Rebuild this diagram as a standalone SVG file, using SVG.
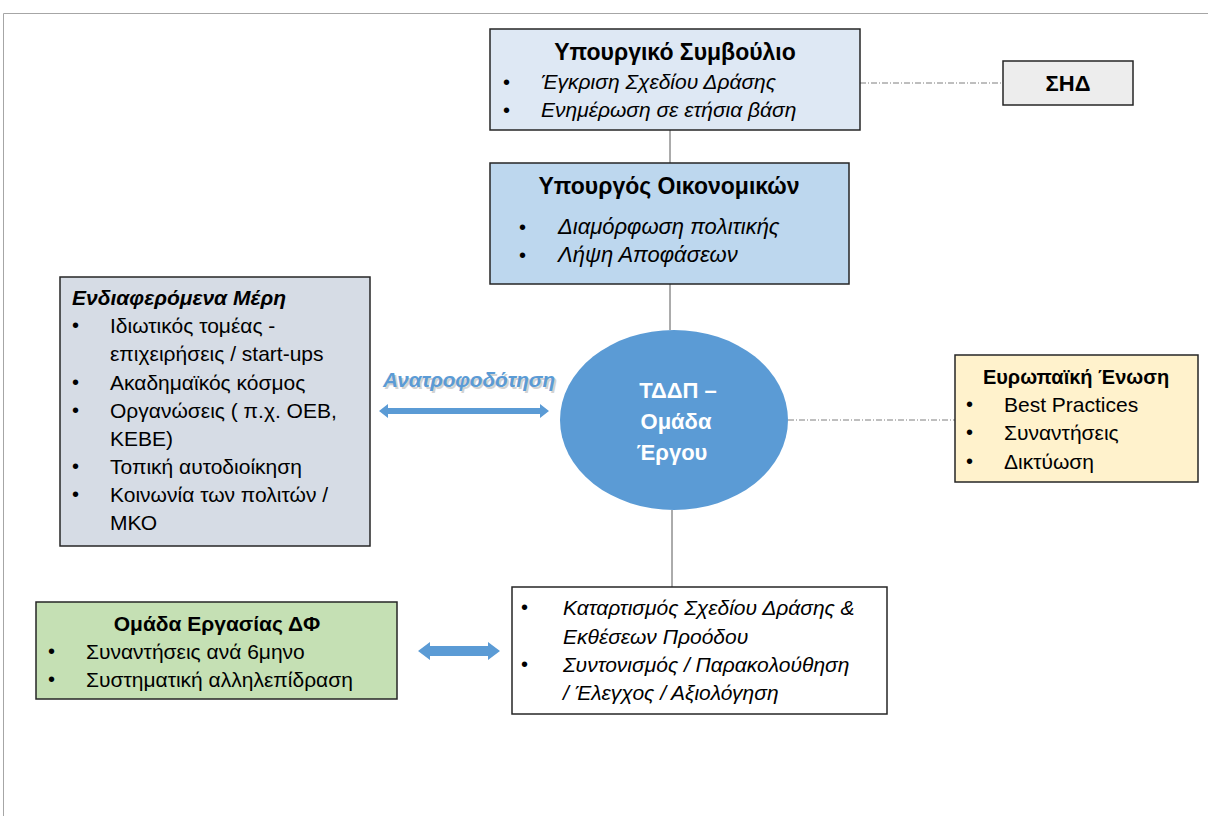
<svg xmlns="http://www.w3.org/2000/svg" width="1208" height="816" viewBox="0 0 1208 816">
<defs>
<style>
text{font-family:"Liberation Sans","Open Sans",sans-serif;fill:#000;font-size:21px}
.t{font-weight:bold;font-size:23px;text-anchor:middle}
.i{font-style:italic}
.b{font-size:20px}
.box{stroke:#262626;stroke-width:1.5}
.c{stroke:#595959;stroke-width:1;fill:none}
.dd{stroke:#7f7f7f;stroke-width:1;fill:none;stroke-dasharray:6 2 1 2}
.ar{fill:#5b9bd5}
.w{fill:#fff;font-size:22px}
</style>
</defs>
<rect width="1208" height="816" fill="#fff"/>
<path d="M3.5 816 V13.5 H1208" fill="none" stroke="#a6a6a6" stroke-width="1"/>
<g id="connectors">
<line class="c" x1="670" y1="130" x2="670" y2="163"/>
<line class="c" x1="670" y1="284" x2="670" y2="330"/>
<line class="c" x1="672" y1="510" x2="672" y2="587"/>
<line class="dd" x1="860" y1="83" x2="1003" y2="83"/>
<line class="dd" x1="788" y1="420" x2="955" y2="420"/>
<polygon class="ar" points="379,411 388,404 388,408 540,408 540,404 549,411 540,418 540,414 388,414 388,418"/>
<polygon class="ar" points="418,651 430,642 430,646 488,646 488,642 500,651 488,660 488,656 430,656 430,660"/>
</g>
<g id="cabinet">
<rect class="box" x="490" y="29" width="370" height="101" fill="#dee8f4"/>
<text class="t" x="675" y="60">Υπουργικό Συμβούλιο</text>
<text class="b" x="503" y="89">•</text><text class="i" x="541" y="89">Έγκριση Σχεδίου Δράσης</text>
<text class="b" x="503" y="117">•</text><text class="i" x="541" y="117">Ενημέρωση σε ετήσια βάση</text>
</g>
<g id="minister">
<rect class="box" x="490" y="163" width="359" height="121" fill="#bdd7ee"/>
<text class="t" x="669" y="194">Υπουργός Οικονομικών</text>
<text class="b" x="519" y="234">•</text><text class="i" x="558" y="234" style="font-size:22px">Διαμόρφωση πολιτικής</text>
<text class="b" x="519" y="262">•</text><text class="i" x="558" y="262" style="font-size:22px">Λήψη Αποφάσεων</text>
</g>
<g id="shd">
<rect class="box" x="1003" y="61" width="130" height="44" fill="#ededed"/>
<text class="t" x="1068" y="91" style="font-size:22px">ΣΗΔ</text>
</g>
<g id="stakeholders">
<rect class="box" x="60" y="277" width="310" height="269" fill="#d6dce5"/>
<text x="72" y="305" style="font-weight:bold;font-style:italic">Ενδιαφερόμενα Μέρη</text>
<g style="font-size:22px">
<text class="b" x="72" y="332">•</text><text x="110" y="333">Ιδιωτικός τομέας -</text>
<text x="110" y="361">επιχειρήσεις / start-ups</text>
<text class="b" x="72" y="389">•</text><text x="110" y="390">Ακαδημαϊκός κόσμος</text>
<text class="b" x="72" y="417">•</text><text x="110" y="418">Οργανώσεις ( π.χ. ΟΕΒ,</text>
<text x="110" y="446">ΚΕΒΕ)</text>
<text class="b" x="72" y="473">•</text><text x="110" y="474">Τοπική αυτοδιοίκηση</text>
<text class="b" x="72" y="501">•</text><text x="110" y="502">Κοινωνία των πολιτών /</text>
<text x="110" y="530">ΜΚΟ</text>
</g>
</g>
<g id="feedback-label">
<text x="385" y="389" style="fill:#a6a6a6;font-weight:bold;font-style:italic;font-size:20.7px;opacity:0.5">Ανατροφοδότηση</text>
<text x="383" y="387" style="fill:#5b9bd5;font-weight:bold;font-style:italic;font-size:20.7px">Ανατροφοδότηση</text>
</g>
<g id="tddp">
<ellipse cx="674" cy="420" rx="114" ry="90" fill="#5b9bd5"/>
<text class="t w" x="678" y="398">ΤΔΔΠ –</text>
<text class="t w" x="676" y="429">Ομάδα</text>
<text class="t w" x="672" y="460">Έργου</text>
</g>
<g id="eu">
<rect class="box" x="955" y="355" width="243" height="127" fill="#fff2cc"/>
<text class="t" x="1076" y="384" style="font-size:20px">Ευρωπαϊκή Ένωση</text>
<g style="font-size:20.5px">
<text class="b" x="966" y="411">•</text><text x="1004" y="412">Best Practices</text>
<text class="b" x="966" y="439">•</text><text x="1004" y="440">Συναντήσεις</text>
<text class="b" x="966" y="468">•</text><text x="1004" y="469">Δικτύωση</text>
</g>
</g>
<g id="workgroup">
<rect class="box" x="36" y="602" width="361" height="97" fill="#c5e0b4"/>
<text class="t" x="217" y="631" style="font-size:21px">Ομάδα Εργασίας ΔΦ</text>
<g style="font-size:22px">
<text class="b" x="48" y="658">•</text><text x="86" y="659">Συναντήσεις ανά 6μηνο</text>
<text class="b" x="48" y="686">•</text><text x="86" y="687">Συστηματική αλληλεπίδραση</text>
</g>
</g>
<g id="tasks">
<rect class="box" x="512" y="587" width="375" height="127" fill="#fff"/>
<g style="font-size:21.8px">
<text class="b" x="521" y="614">•</text><text class="i" x="563" y="615">Καταρτισμός Σχεδίου Δράσης &amp;</text>
<text class="i" x="563" y="644">Εκθέσεων Προόδου</text>
<text class="b" x="521" y="671">•</text><text class="i" x="563" y="672">Συντονισμός / Παρακολούθηση</text>
<text class="i" x="563" y="700">/ Έλεγχος / Αξιολόγηση</text>
</g>
</g>
</svg>
